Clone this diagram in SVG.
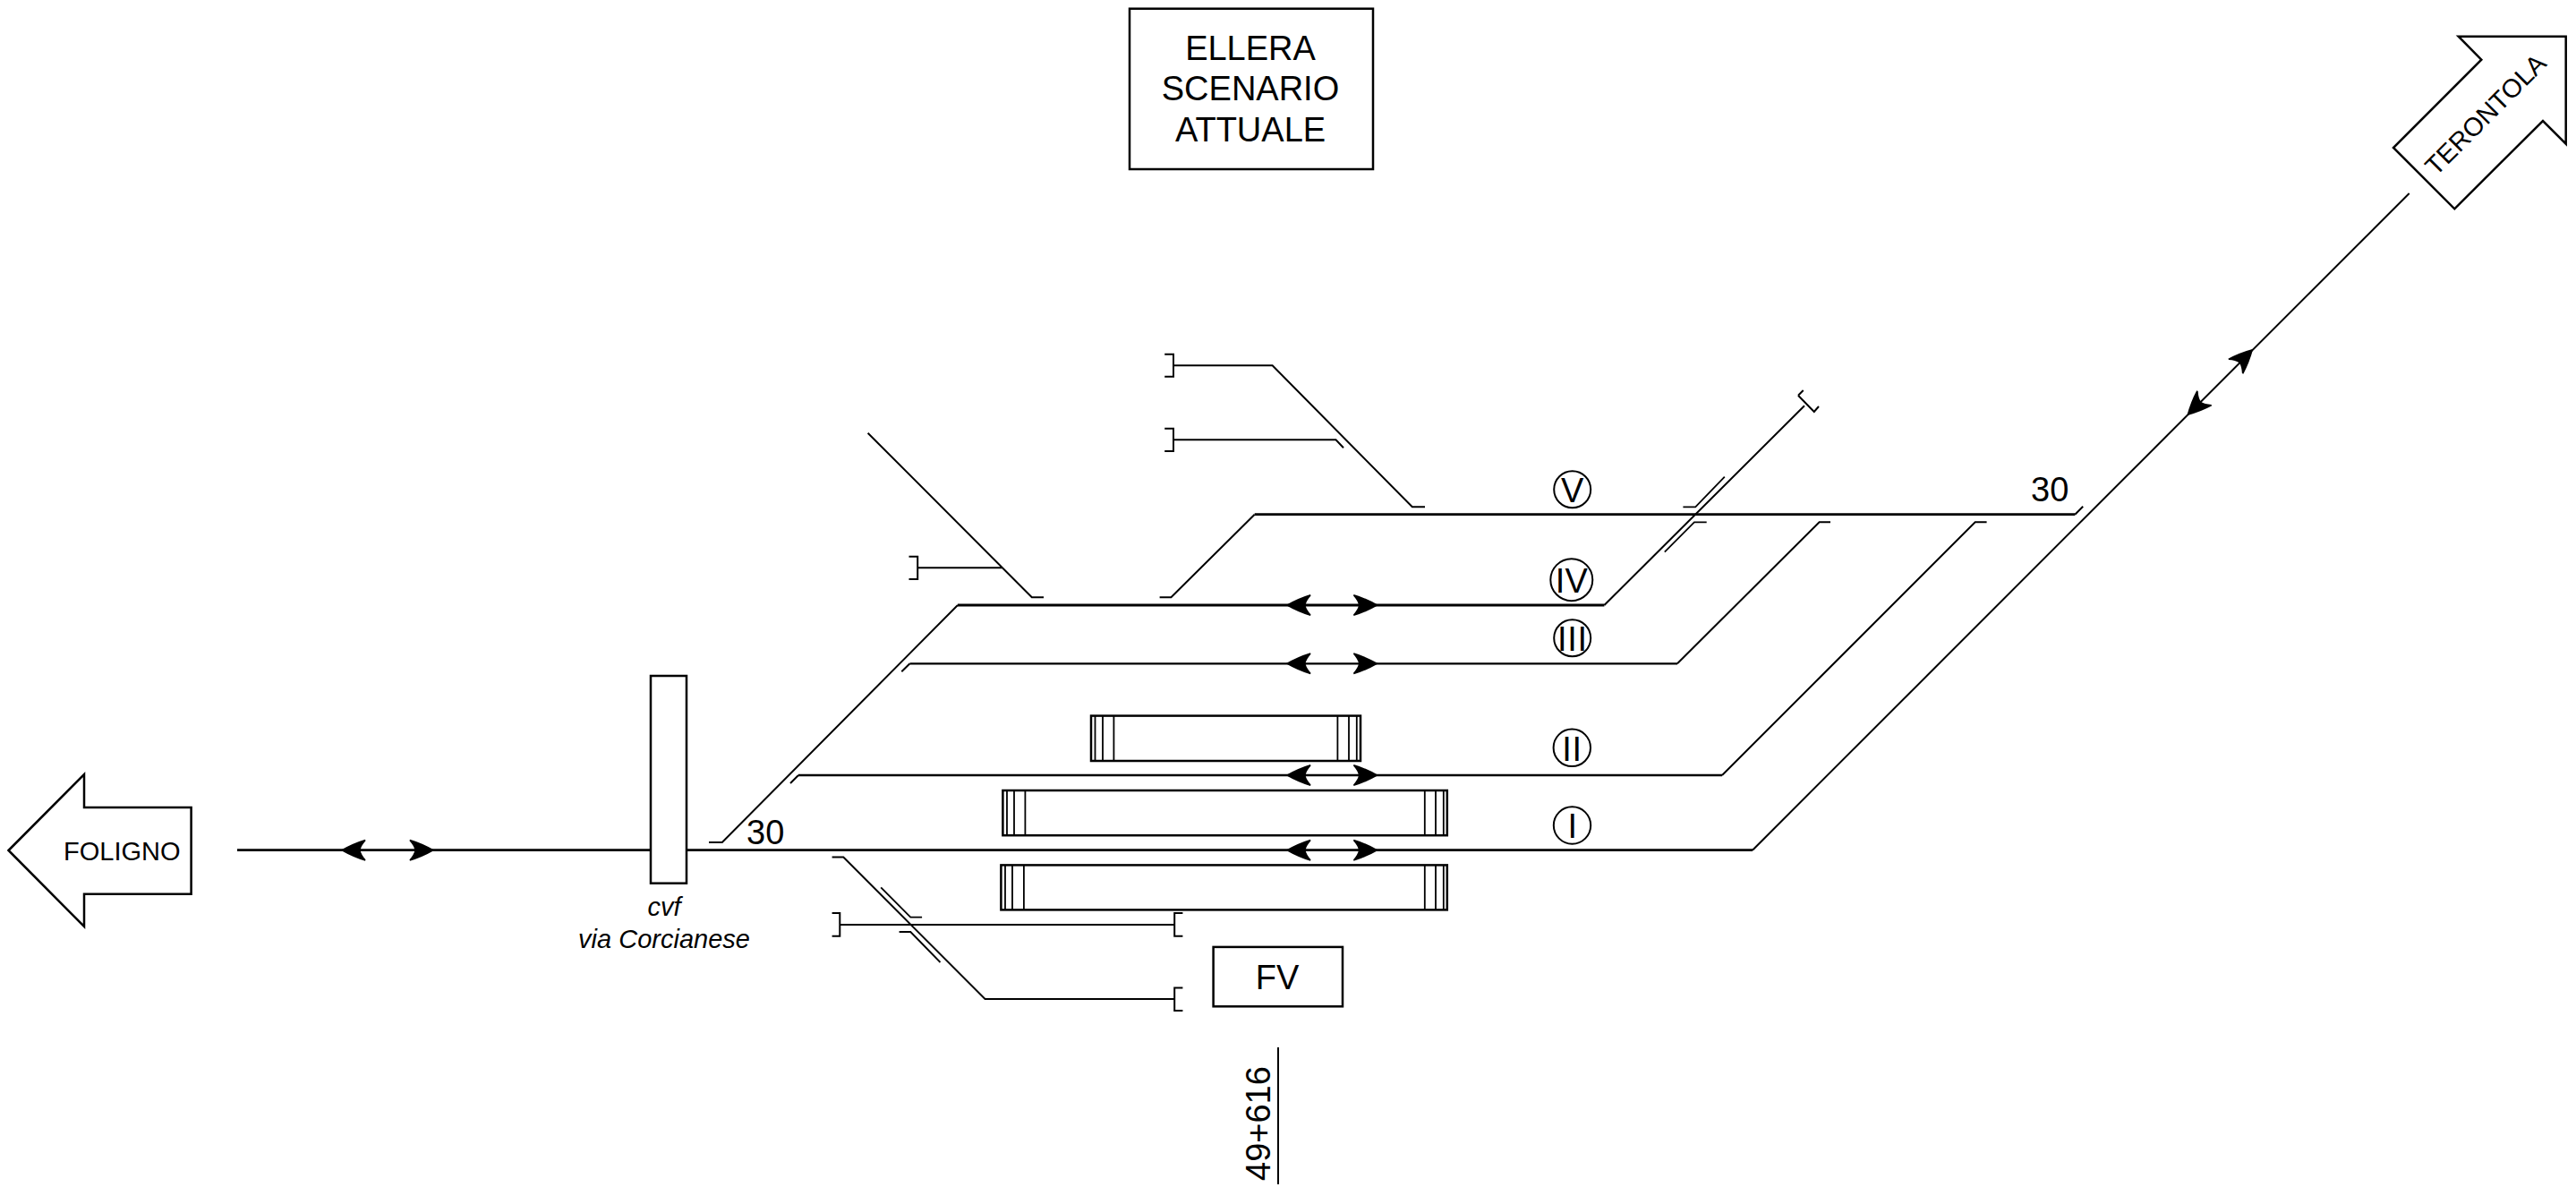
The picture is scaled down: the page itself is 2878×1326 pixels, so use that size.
<svg xmlns="http://www.w3.org/2000/svg" width="2878" height="1326" viewBox="0 0 2878 1326">
<style>
text{font-family:"Liberation Sans",Arial,sans-serif;fill:#000}
.t{font-size:38px}
.m{text-anchor:middle}
.s{fill:#fff;stroke:#000;stroke-width:2.5}
.f{fill:none;stroke:#000;stroke-width:1.8}
.tr{fill:none;stroke:#000;stroke-width:2}
.tm{fill:none;stroke:#000;stroke-width:2.3}
.th{fill:none;stroke:#000;stroke-width:2.8}
.c{fill:#fff;stroke:#000;stroke-width:2}
.i{font-size:29px;font-style:italic}
.n{letter-spacing:.7px}
</style>
<defs>
<path id="ar" d="M0 0Q14 -8 27.5 -12L28 -10.5Q23 -5 22 0Q23 5 28 10.5L27.5 12Q14 8 0 0Z" fill="#000"/>
</defs>
<rect width="2878" height="1326" fill="#fff"/>
<g id="connectors">
<path class="th" d="M265 949.7H1958M1070 676H1792.4M1401.7 574.7H2318.3"/>
<path class="tm" d="M1016.5 741.3H1874M892 866H1924"/>
<path class="tr" d="M1958 949.7L2691.7 216"/>
<path class="tr" d="M792 941H806.8L1070 676M1792.4 676L2016 453.3"/>
<path class="tr" d="M2009 441.7L2014.7 436M2009 441.7L2026.8 460L2032 454"/>
<path class="tr" d="M1007.3 750.3L1016.5 741.3M1874 741.3L2032.6 583.3H2045"/>
<path class="tr" d="M883 875L892 866M1924 866L2206.7 583.3H2219.6"/>
<path class="tr" d="M1295.6 667.3H1308.4L1401.7 574.7M2318.3 574.7L2327.2 565.7"/>
<path class="tr" d="M1592 566.3H1577.8L1421.6 408.3H1311M1301.2 395.7H1311V420.7H1301.2"/>
<path class="tr" d="M1311 491.3H1492.5L1501 500.3M1301.2 478.7H1311V504H1301.2"/>
<path class="tr" d="M969.6 483.7L1152.8 667.3H1166M1119.6 634.3H1025.2M1015.5 621.7H1025.2V647H1015.5"/>
<path class="f" d="M1880.4 566.3H1894.2L1926.8 532.7M1906.7 583.3H1892.9L1859.8 616.7"/>
<path class="tr" d="M929.6 957.5H942.3L1100.5 1116H1312.2M1321.4 1103.6H1312.2V1129H1321.4"/>
<path class="tr" d="M938.3 1032.9H1312.2M929.6 1020H938.3V1045.7H929.6M1321.4 1020H1312.2V1045.7H1321.4"/>
<path class="f" d="M984.2 991.4L1017.3 1024.6H1030.1M1004.6 1041H1017.3L1050.5 1075"/>
<path class="tr" d="M1428 1170V1323"/>
<use href="#ar" transform="translate(380.5 949.7)"/>
<use href="#ar" transform="translate(485.5 949.7) rotate(180)"/>
<use href="#ar" transform="translate(1436.5 949.7)"/>
<use href="#ar" transform="translate(1540 949.7) rotate(180)"/>
<use href="#ar" transform="translate(1436.5 866)"/>
<use href="#ar" transform="translate(1540 866) rotate(180)"/>
<use href="#ar" transform="translate(1436.5 741.3)"/>
<use href="#ar" transform="translate(1540 741.3) rotate(180)"/>
<use href="#ar" transform="translate(1436.5 676)"/>
<use href="#ar" transform="translate(1540 676) rotate(180)"/>
<use href="#ar" transform="translate(2443.3 464.3) rotate(-45)"/>
<use href="#ar" transform="translate(2517.3 389.7) rotate(135)"/>
</g>
<g id="title"><rect class="s" x="1262" y="9.7" width="272" height="179.3"/>
<text class="t m" x="1397" y="66.7">ELLERA</text><text class="t m" x="1397" y="112">SCENARIO</text><text class="t m" x="1397" y="157.7">ATTUALE</text></g>
<g id="foligno"><path class="s" d="M9.5 950L94 865V902H213.6V998.7H94V1035Z"/><text x="71" y="960.7" font-size="29">FOLIGNO</text></g>
<g id="terontola"><path class="s" d="M2746.7 40.7H2866.7V160.7L2841 135L2742.3 233.3L2674 165L2772.3 66.7Z"/><text transform="translate(2721.5 197.5) rotate(-45)" font-size="29">TERONTOLA</text></g>
<g id="cvf"><rect class="s" x="727" y="755" width="40" height="231.7"/>
<text class="i m" x="742" y="1023">cvf</text><text class="i m" x="742" y="1058.7">via Corcianese</text></g>
<g id="platform-top"><rect class="s" x="1219" y="799.6" width="301" height="50.4"/><path class="f" d="M1223.5 800V850M1232 800V850M1244.4 800V850M1494.4 800V850M1507 800V850M1515.8 800V850"/></g>
<g id="platform-mid"><rect class="s" x="1120.4" y="883" width="496.4" height="50.2"/><path class="f" d="M1125 883V933M1133 883V933M1145.4 883V933M1591.8 883V933M1604 883V933M1612.8 883V933"/></g>
<g id="platform-low"><rect class="s" x="1118.4" y="966.4" width="498.4" height="50"/><path class="f" d="M1123 966V1016M1131 966V1016M1143.9 966V1016M1591.8 966V1016M1604 966V1016M1612.8 966V1016"/></g>
<g id="fv"><rect class="s" x="1355.6" y="1057.9" width="144.4" height="66.4"/><text class="t m" x="1427" y="1105">FV</text></g>
<g id="km"><text class="t" transform="translate(1419 1319) rotate(-90)">49+616</text></g>
<g id="label-30a"><text class="t" x="834" y="942.7">30</text></g>
<g id="label-30b"><text class="t" x="2269" y="560">30</text></g>
<g id="track-V"><circle class="c" cx="1756.7" cy="546.7" r="20.5"/><text class="t m" x="1756.7" y="560.5">V</text></g>
<g id="track-IV"><circle class="c" cx="1755.8" cy="647.7" r="23.5"/><text class="t m" x="1755.8" y="661.5">IV</text></g>
<g id="track-III"><circle class="c" cx="1756.7" cy="712.7" r="20.5"/><text class="t m n" x="1757" y="726.5">III</text></g>
<g id="track-II"><circle class="c" cx="1756.3" cy="835.3" r="20.7"/><text class="t m n" x="1756.6" y="850">II</text></g>
<g id="track-I"><circle class="c" cx="1756.5" cy="922" r="20.7"/><text class="t m" x="1756.7" y="936">I</text></g>
</svg>
